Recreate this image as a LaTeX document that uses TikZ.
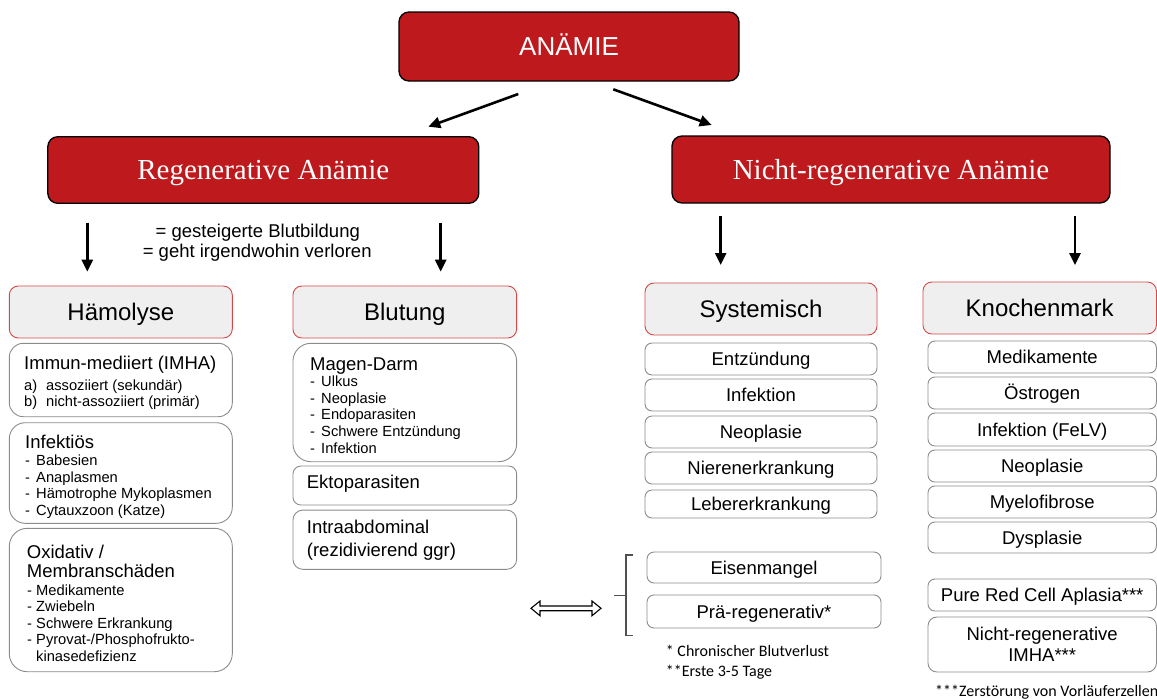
\documentclass[tikz,border=0pt]{standalone}
\usepackage{fontspec}
\setmainfont{Liberation Sans}
\newfontfamily\seriffam{Liberation Serif}
\newfontfamily\califam{Carlito}
\usetikzlibrary{arrows.meta}
\definecolor{anred}{RGB}{190,25,29}
\definecolor{hdgray}{RGB}{239,239,239}
\definecolor{hdred}{RGB}{214,72,72}
\definecolor{boxgray}{RGB}{140,140,140}
\definecolor{brkgray}{RGB}{80,80,80}
\tikzset{
  redbox/.style={draw=black, line width=1.3pt, fill=anred, rounded corners=10pt, text=white, inner sep=0pt},
  headbox/.style={draw=hdred, line width=0.9pt, fill=hdgray, rounded corners=9pt, inner sep=0pt,
    font=\fontsize{24}{28}\selectfont, text height=17.2pt, text depth=0pt},
  ibox/.style={draw=boxgray, line width=0.9pt, fill=white, rounded corners=7pt, inner sep=0pt},
  itxt/.style={font=\fontsize{18.5}{21}\selectfont, text height=13.2pt, text depth=0pt},
  ttl/.style={font=\fontsize{18.5}{21}\selectfont, inner sep=0pt, anchor=base west},
  ctl/.style={font=\fontsize{18.5}{21}\selectfont, inner sep=0pt, anchor=base},
  lst/.style={font=\fontsize{14.7}{16.6}\selectfont, inner sep=0pt, anchor=base west},
  note/.style={font=\califam\fontsize{16}{19}\selectfont, inner sep=0pt, anchor=base west},
  arr/.style={-{Triangle[length=12pt,width=11pt]}, line width=2.6pt, black},
  brk/.style={draw=brkgray, line width=1.4pt},
}
\begin{document}
\begin{tikzpicture}[x=1pt,y=-1pt]
\useasboundingbox (0,0) rectangle (1157,699);

% top level
\node[redbox, minimum width=340, minimum height=69, font=\fontsize{26}{30}\selectfont, text height=18.6pt, text depth=0pt] (anaemie) at (569,46.5) {ANÄMIE};
\node[redbox, minimum width=431, minimum height=66.6, font=\seriffam\fontsize{29}{33}\selectfont, text height=19.2pt, text depth=0pt] (regen) at (263.3,170) {Regenerative Anämie};
\node[redbox, minimum width=438, minimum height=67, font=\seriffam\fontsize{29}{33}\selectfont, text height=19.2pt, text depth=0pt] (nregen) at (891,169.5) {Nicht-regenerative Anämie};

\coordinate (a1s) at (518.3,94);   \coordinate (a1e) at (428.3,126.7);
\coordinate (a2s) at (613.3,89.3); \coordinate (a2e) at (711.7,125);
\draw[arr] (a1s) -- (a1e);
\draw[arr] (a2s) -- (a2e);

\node[ctl] (def1) at (257.8,237.3) {= gesteigerte Blutbildung};
\node[ctl] (def2) at (257.2,257.3) {= geht irgendwohin verloren};

\coordinate (d1s) at (87.3,222.7);  \coordinate (d1e) at (87.3,271.7);
\coordinate (d2s) at (440.7,222.7); \coordinate (d2e) at (440.7,271.7);
\coordinate (d3s) at (720.7,216);   \coordinate (d3e) at (720.7,265);
\coordinate (d4s) at (1075,216);    \coordinate (d4e) at (1075,265);
\draw[arr] (d1s) -- (d1e);
\draw[arr] (d2s) -- (d2e);
\draw[arr] (d3s) -- (d3e);
\draw[arr] (d4s) -- (d4e);

% headers
\node[headbox, minimum width=223, minimum height=52] (haem) at (120.8,312) {Hämolyse};
\node[headbox, minimum width=223.7, minimum height=52] (blut) at (404.8,312) {Blutung};
\node[headbox, minimum width=232, minimum height=52] (syst) at (761,309) {Systemisch};
\node[headbox, minimum width=233.5, minimum height=52] (knoch) at (1039.7,308) {Knochenmark};

% Haemolyse boxes
\node[ibox, rounded corners=14pt, minimum width=223, minimum height=73.4] (imha) at (120.8,380) {};
\node[ttl] (imhat) at (24,369) {Immun-mediiert (IMHA)};
\node[lst] (imhaa) at (24,390.7) {\makebox[22pt][l]{a)}assoziiert (sekundär)};
\node[lst] (imhab) at (24,406) {\makebox[22pt][l]{b)}nicht-assoziiert (primär)};

\node[ibox, rounded corners=16pt, minimum width=223, minimum height=100.6] (infk) at (120.8,473) {};
\node[ttl] (infkt) at (25,448.3) {Infektiös};
\node[lst] (infk1) at (25,465.7) {\makebox[11pt][l]{-}Babesien};
\node[lst] (infk2) at (25,482.3) {\makebox[11pt][l]{-}Anaplasmen};
\node[lst] (infk3) at (25,498.9) {\makebox[11pt][l]{-}Hämotrophe Mykoplasmen};
\node[lst] (infk4) at (25,515.5) {\makebox[11pt][l]{-}Cytauxzoon (Katze)};

\node[ibox, rounded corners=18pt, minimum width=223, minimum height=143.4] (oxid) at (120.8,600) {};
\node[ttl] (oxidt1) at (26.7,558) {Oxidativ /};
\node[ttl] (oxidt2) at (26.7,577.7) {Membranschäden};
\node[lst] (oxid1) at (27,595) {\makebox[9pt][l]{-}Medikamente};
\node[lst] (oxid2) at (27,611.6) {\makebox[9pt][l]{-}Zwiebeln};
\node[lst] (oxid3) at (27,628.2) {\makebox[9pt][l]{-}Schwere Erkrankung};
\node[lst] (oxid4) at (27,644.8) {\makebox[9pt][l]{-}Pyrovat-/Phosphofrukto-};
\node[lst] (oxid5) at (36,661.4) {kinasedefizienz};

% Blutung boxes
\node[ibox, rounded corners=18pt, minimum width=223.7, minimum height=118.4] (magen) at (404.8,402.5) {};
\node[ttl] (magent) at (310,370.7) {Magen-Darm};
\node[lst] (magen1) at (310,386.7) {\makebox[11pt][l]{-}Ulkus};
\node[lst] (magen2) at (310,403.3) {\makebox[11pt][l]{-}Neoplasie};
\node[lst] (magen3) at (310,419.9) {\makebox[11pt][l]{-}Endoparasiten};
\node[lst] (magen4) at (310,436.5) {\makebox[11pt][l]{-}Schwere Entzündung};
\node[lst] (magen5) at (310,453.1) {\makebox[11pt][l]{-}Infektion};

\node[ibox, rounded corners=8pt, minimum width=223.7, minimum height=39] (ekto) at (404.8,485.5) {};
\node[ttl] (ektot) at (306.7,488.3) {Ektoparasiten};
\node[ibox, rounded corners=10pt, minimum width=223.7, minimum height=59.3] (intra) at (404.8,539.7) {};
\node[ttl] (intrat1) at (306.7,533.3) {Intraabdominal};
\node[ttl] (intrat2) at (306.7,556.7) {(rezidivierend ggr)};

% Systemisch
\node[ibox, itxt, minimum width=232, minimum height=32] (entz) at (761,359) {Entzündung};
\node[ibox, itxt, minimum width=232, minimum height=32] (infe) at (761,395) {Infektion};
\node[ibox, itxt, minimum width=232, minimum height=32] (neo1) at (761,432) {Neoplasie};
\node[ibox, itxt, minimum width=232, minimum height=32] (niere) at (761,468) {Nierenerkrankung};
\node[ibox, itxt, minimum width=232, minimum height=28] (leber) at (761,504) {Lebererkrankung};

% Knochenmark
\node[ibox, itxt, minimum width=228.5, minimum height=32] (medi) at (1042.2,357) {Medikamente};
\node[ibox, itxt, minimum width=228.5, minimum height=32] (oestr) at (1042.2,393) {Östrogen};
\node[ibox, itxt, minimum width=228.5, minimum height=33] (felv) at (1042.2,429.5) {Infektion (FeLV)};
\node[ibox, itxt, minimum width=228.5, minimum height=32] (neo2) at (1042.2,466) {Neoplasie};
\node[ibox, itxt, minimum width=228.5, minimum height=32] (myelo) at (1042.2,502) {Myelofibrose};
\node[ibox, itxt, minimum width=228.5, minimum height=31] (dysp) at (1042.2,537.5) {Dysplasie};

\node[ibox, itxt, minimum width=228.5, minimum height=32] (prca) at (1042.2,595) {Pure Red Cell Aplasia***};
\node[ibox, rounded corners=9pt, minimum width=228.5, minimum height=55] (nrimha) at (1042.2,644.5) {};
\node[ctl] (nrimha1) at (1042.2,640) {Nicht-regenerative};
\node[ctl] (nrimha2) at (1042.2,661.7) {IMHA***};
\node[note] (fn3) at (935,696) {***Zerstörung von Vorläuferzellen};

% Eisenmangel group
\node[ibox, itxt, minimum width=234, minimum height=31] (eisen) at (764,567.5) {Eisenmangel};
\node[ibox, itxt, minimum width=234, minimum height=33] (praereg) at (764,611.5) {Prä-regenerativ*};
\coordinate (bt) at (633.3,555); \coordinate (bb) at (633.3,635.7);
\coordinate (bm) at (614,595.7);
\draw[brk] (bt) -- (626,555) -- (626,635.7) -- (bb);
\draw[brk] (bm) -- (626,595.7);
\node[note] (fn1) at (665.7,656.7) {* Chronischer Blutverlust};
\node[note] (fn2) at (665.7,676.7) {**Erste 3-5 Tage};

% hollow double arrow
\draw[line width=1.1pt, fill=white] (531,608.3) -- (540,601) -- (540,606) -- (592,606) -- (592,601) -- (601,608.3)
  -- (592,615.7) -- (592,610.7) -- (540,610.7) -- (540,615.7) -- cycle;
\end{tikzpicture}
\end{document}
